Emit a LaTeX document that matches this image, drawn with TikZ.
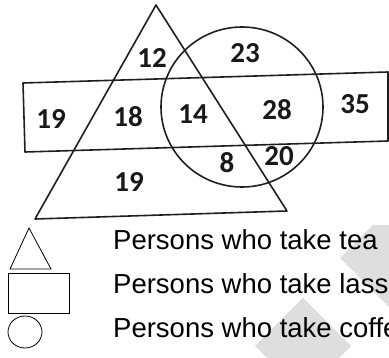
\documentclass[tikz,border=0pt]{standalone}
\usepackage{fontspec}
\setmainfont{Liberation Sans}
\newfontfamily\numfont{Carlito}
\begin{document}
\begin{tikzpicture}[x=1pt,y=-1pt,
  venn/.style={line width=1.6pt,draw=black!88,line join=round},
  key/.style={line width=0.8pt,draw=black},
  num/.style={font=\numfont\bfseries\fontsize{29}{29}\selectfont,text=black!90,inner sep=0pt},
  legend/.style={font=\fontsize{27.5}{27.5}\selectfont,anchor=base west,inner sep=0pt},
  wm/.style={fill=black!13}]
\useasboundingbox (0,0) rectangle (389,358);
\begin{scope}
\clip (0,0) rectangle (389,358);
% watermark
\fill[wm] (340,258) -- (373,225) -- (389,225) -- (389,307) -- cycle;
\fill[wm] (303,298) -- (255,346) -- (303,394) -- (351,346) -- cycle;
% Venn shapes
\draw[venn] (23,83) -- (388,72) -- (388,141) -- (25,152) -- cycle;
\draw[venn] (156,5) -- (287,211) -- (35,219) -- cycle;
\draw[venn] (242,107) ellipse [x radius=81,y radius=80];
% numbers
\node[num] (n12) at (152,58) {12};
\node[num] (n23) at (245,53) {23};
\node[num] (n19a) at (51,119) {19};
\node[num] (n18) at (128,117) {18};
\node[num] (n14) at (193,114) {14};
\node[num] (n28) at (277,110) {28};
\node[num] (n35) at (355,104) {35};
\node[num] (n8) at (227,163) {8};
\node[num] (n20) at (279,156) {20};
\node[num] (n19b) at (129,182) {19};
% legend
\draw[key] (29,228) -- (51,269) -- (10,269) -- cycle;
\draw[key] (8,273) rectangle (69,313);
\draw[key] (25,332) ellipse [x radius=17,y radius=16];
\node[legend] (tea) at (113,250) {Persons who take tea};
\node[legend] (lassi) at (113,294) {Persons who take lass};
\node[legend] (coffee) at (113,338) {Persons who take coffe};
\end{scope}
\end{tikzpicture}
\end{document}
